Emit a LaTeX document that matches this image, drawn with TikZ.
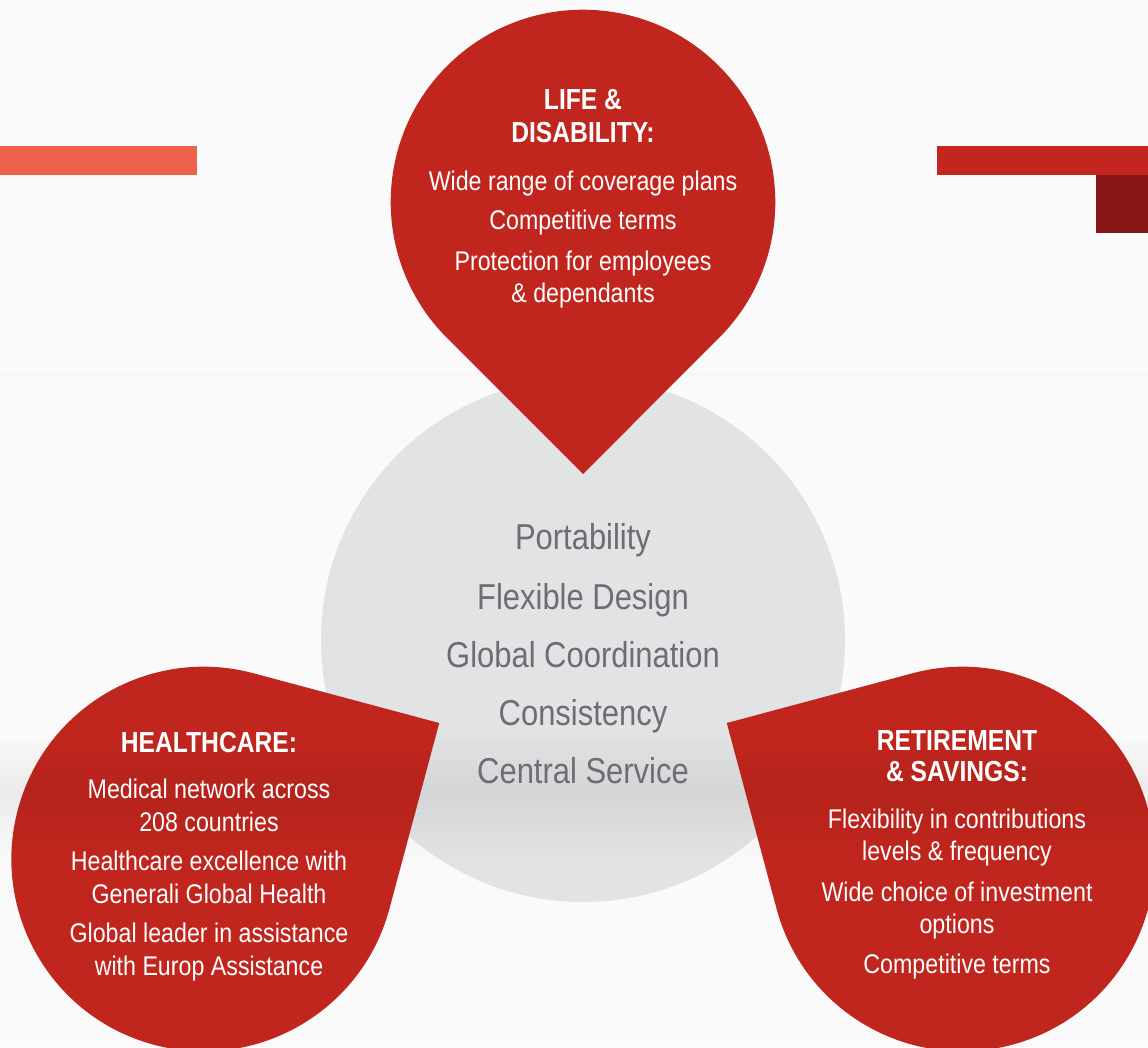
\documentclass[tikz,border=0pt]{standalone}
\usepackage{fontspec}
\setmainfont{Liberation Sans}
\newfontfamily\bodyfont{Liberation Sans}[FakeStretch=0.86]
\newfontfamily\headfont{Liberation Sans}[FakeStretch=0.85]
\usetikzlibrary{calc}
\definecolor{bgcol}{HTML}{FAFAFA}
\definecolor{pinred}{HTML}{C1261E}
\definecolor{barorange}{HTML}{EE624A}
\definecolor{barred}{HTML}{C3261E}
\definecolor{bardark}{HTML}{861716}
\definecolor{coregrey}{HTML}{E2E3E5}
\definecolor{coretext}{HTML}{6D6E71}
\tikzset{
  bodytxt/.style={font=\bodyfont\fontsize{27}{32}\selectfont, text=white, anchor=base, inner sep=0pt},
  headtxt/.style={font=\headfont\bfseries\fontsize{29}{33}\selectfont, text=white, anchor=base, inner sep=0pt},
  coretxt/.style={font=\bodyfont\fontsize{36}{44}\selectfont, text=coretext, anchor=base, inner sep=0pt},
  pinshape/.style={fill=pinred},
}
\begin{document}
\begin{tikzpicture}[x=1pt,y=-1pt]
\useasboundingbox (0,0) rectangle (1148,1047);
\clip (0,0) rectangle (1148,1047);
% background
\fill[bgcol] (0,0) rectangle (1148,1047);
\fill[black!3] (0,373) rectangle (1148,376);
\fill[black!2] (0,656) rectangle (1148,659);
% bars
\fill[barorange] (0,146) rectangle (197,175);
\fill[barred] (937,146) rectangle (1148,175);
\fill[bardark] (1096,175) rectangle (1148,233);
% geometry
\def\R{192.3}
\coordinate (G) at (583,640);
\coordinate (lifeC) at ($(G)+(270:438)$);
\coordinate (lifeT) at ($(G)+(270:166)$);
\coordinate (healC) at ($(G)+(150:438)$);
\coordinate (healT) at ($(G)+(150:166)$);
\coordinate (retC) at ($(G)+(30:438)$);
\coordinate (retT) at ($(G)+(30:166)$);
% core circle
\fill[coregrey] (G) circle[radius=262];
% pins
\fill[pinshape] (lifeT) -- ($(lifeC)+(135:\R)$) arc[start angle=135, end angle=405, radius=\R] -- cycle;
\fill[pinshape] (healT) -- ($(healC)+(15:\R)$) arc[start angle=15, end angle=285, radius=\R] -- cycle;
\fill[pinshape] (retT) -- ($(retC)+(255:\R)$) arc[start angle=255, end angle=525, radius=\R] -- cycle;
% band overlay
\foreach \y/\o in {740/0.01,745/0.015,750/0.02,755/0.025,760/0.03,765/0.036,770/0.042,775/0.048,780/0.052,785/0.055,790/0.055,795/0.053,800/0.05,805/0.046,810/0.042,815/0.037,820/0.032,825/0.027,830/0.022,835/0.018,840/0.014,845/0.011,850/0.008,855/0.005}{
  \fill[black, opacity=\o] (0,\y) rectangle (1148,\y+5);
}
% life texts
\node[headtxt] (lh1) at (583,109) {LIFE \&};
\node[headtxt] (lh2) at (583,142) {DISABILITY:};
\node[bodytxt] (lb1) at (583,190) {Wide range of coverage plans};
\node[bodytxt] (lb2) at (583,229) {Competitive terms};
\node[bodytxt] (lb3) at (583,270) {Protection for employees};
\node[bodytxt] (lb4) at (583,302) {\& dependants};
% healthcare texts
\node[headtxt] (hh1) at (209,752) {HEALTHCARE:};
\node[bodytxt] (hb1) at (209,798) {Medical network across};
\node[bodytxt] (hb2) at (209,831) {208 countries};
\node[bodytxt] (hb3) at (209,870) {Healthcare excellence with};
\node[bodytxt] (hb4) at (209,903) {Generali Global Health};
\node[bodytxt] (hb5) at (209,942) {Global leader in assistance};
\node[bodytxt] (hb6) at (209,975) {with Europ Assistance};
% retirement texts
\node[headtxt] (rh1) at (957,750) {RETIREMENT};
\node[headtxt] (rh2) at (957,781) {\& SAVINGS:};
\node[bodytxt] (rb1) at (957,828) {Flexibility in contributions};
\node[bodytxt] (rb2) at (957,860) {levels \& frequency};
\node[bodytxt] (rb3) at (957,901) {Wide choice of investment};
\node[bodytxt] (rb4) at (957,933) {options};
\node[bodytxt] (rb5) at (957,973) {Competitive terms};
% core texts
\node[coretxt] (c1) at (583,549) {Portability};
\node[coretxt] (c2) at (583,609) {Flexible Design};
\node[coretxt] (c3) at (583,667) {Global Coordination};
\node[coretxt] (c4) at (583,725) {Consistency};
\node[coretxt] (c5) at (583,783) {Central Service};
\end{tikzpicture}
\end{document}
